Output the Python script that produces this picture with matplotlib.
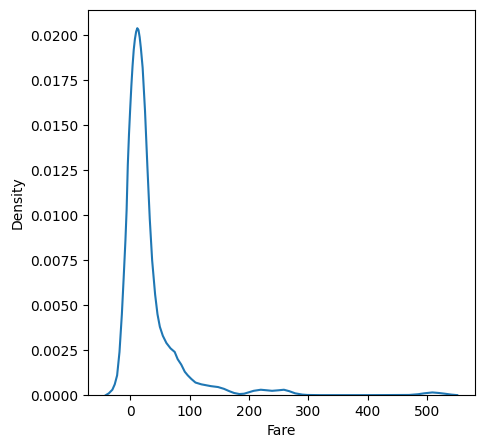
import matplotlib
matplotlib.use("Agg")
import matplotlib.pyplot as plt

# density curve of Fare
fare = [-41, -36, -30, -26, -22, -18, -14, -11, -8, -6, -4, -2, 0, 2, 4, 6, 8,
        10, 12, 14, 16, 18, 21, 25, 29, 33, 37, 42, 46, 50, 55, 61, 68, 75,
        80, 86, 92, 97, 103, 110, 120, 136, 148, 158, 167, 175, 184, 192, 198,
        208, 220, 230, 239, 250, 259, 268, 278, 290, 298, 320, 400, 470, 485,
        495, 509, 520, 530, 541, 551]
density = [0.0, 0.0001, 0.0003, 0.0006, 0.0011, 0.0024, 0.0045, 0.0065, 0.0086,
           0.0103, 0.0128, 0.0145, 0.0159, 0.0172, 0.0183, 0.0192, 0.0198,
           0.0202, 0.0204, 0.0203, 0.0199, 0.0193, 0.0182, 0.0158, 0.0127,
           0.0098, 0.0075, 0.0056, 0.0045, 0.0038, 0.0033, 0.0029, 0.0026,
           0.0024, 0.0020, 0.0017, 0.0013, 0.0011, 0.0009, 0.0007, 0.0006,
           0.0005, 0.00045, 0.00035, 0.00022, 0.00012, 0.00006, 0.00008,
           0.00014, 0.00024, 0.0003, 0.00027, 0.00024, 0.00027, 0.0003,
           0.00022, 0.0001, 0.00003, 0.00001, 0.0, 0.0, 0.00001, 0.00005,
           0.0001, 0.00015, 0.00012, 0.00008, 0.00003, 0.0]

fig = plt.figure(figsize=(4.85, 4.48), dpi=100)
ax = fig.add_axes([0.182, 0.118, 0.797, 0.860])
ax.plot(fare, density, color="#1f77b4", lw=1.5)
ax.set_ylim(0, None)
ax.set_xlabel("Fare")
ax.set_ylabel("Density")
ax.yaxis.set_major_formatter(matplotlib.ticker.FormatStrFormatter("%.4f"))
fig.savefig("out.png", dpi=100)
